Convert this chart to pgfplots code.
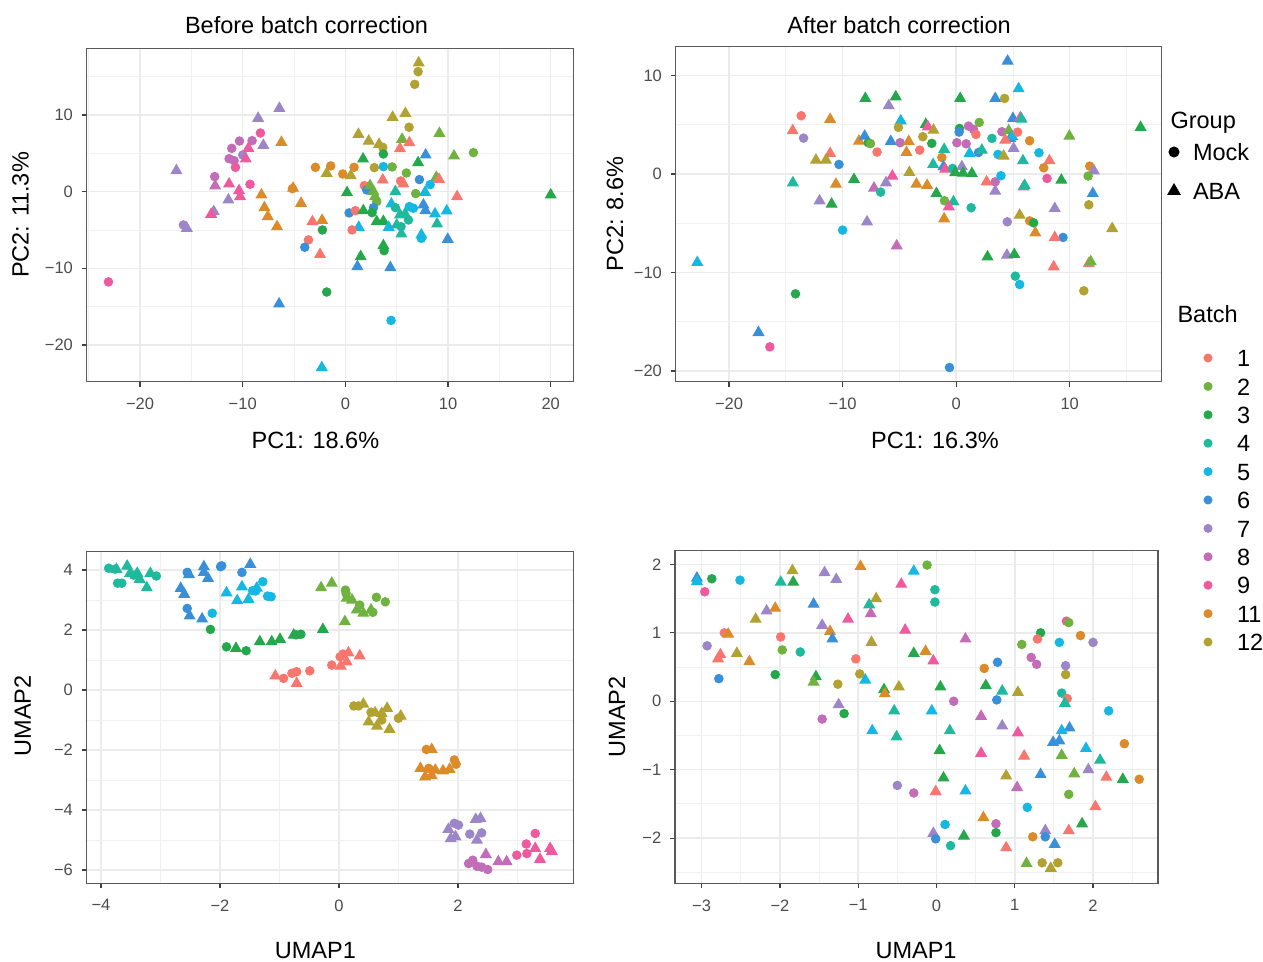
\documentclass[border=0pt]{standalone}
\usepackage{pgfplots}
\pgfplotsset{compat=1.18}
\usepackage{pgfplotstable}
\usepackage{fontspec}
\setmainfont{Liberation Sans}

\definecolor{b1}{HTML}{F8766D}
\definecolor{b2}{HTML}{6FB23F}
\definecolor{b3}{HTML}{25A84B}
\definecolor{b4}{HTML}{1FBA9E}
\definecolor{b5}{HTML}{15B8E2}
\definecolor{b6}{HTML}{3A90D8}
\definecolor{b7}{HTML}{9C86C8}
\definecolor{b8}{HTML}{C36CB7}
\definecolor{b9}{HTML}{EF5A9F}
\definecolor{b11}{HTML}{DC8B2A}
\definecolor{b12}{HTML}{B1A232}

\def\cs{1.7pt}
\def\ts{2.4pt}
\pgfplotsset{
  bclasses/.style={scatter/classes={
    c1={mark=*,mark size=\cs,draw=b1,fill=b1}, t1={mark=triangle*,mark size=\ts,draw=b1,fill=b1},
    c2={mark=*,mark size=\cs,draw=b2,fill=b2}, t2={mark=triangle*,mark size=\ts,draw=b2,fill=b2},
    c3={mark=*,mark size=\cs,draw=b3,fill=b3}, t3={mark=triangle*,mark size=\ts,draw=b3,fill=b3},
    c4={mark=*,mark size=\cs,draw=b4,fill=b4}, t4={mark=triangle*,mark size=\ts,draw=b4,fill=b4},
    c5={mark=*,mark size=\cs,draw=b5,fill=b5}, t5={mark=triangle*,mark size=\ts,draw=b5,fill=b5},
    c6={mark=*,mark size=\cs,draw=b6,fill=b6}, t6={mark=triangle*,mark size=\ts,draw=b6,fill=b6},
    c7={mark=*,mark size=\cs,draw=b7,fill=b7}, t7={mark=triangle*,mark size=\ts,draw=b7,fill=b7},
    c8={mark=*,mark size=\cs,draw=b8,fill=b8}, t8={mark=triangle*,mark size=\ts,draw=b8,fill=b8},
    c9={mark=*,mark size=\cs,draw=b9,fill=b9}, t9={mark=triangle*,mark size=\ts,draw=b9,fill=b9},
    c11={mark=*,mark size=\cs,draw=b11,fill=b11}, t11={mark=triangle*,mark size=\ts,draw=b11,fill=b11},
    c12={mark=*,mark size=\cs,draw=b12,fill=b12}, t12={mark=triangle*,mark size=\ts,draw=b12,fill=b12}
  }},
  panel/.style={
    scale only axis,
    tick pos=left,
    tick align=outside, major tick length=2pt, minor tick length=0pt,
    tick style={color=black!75, line width=0.5pt},
    grid=both,
    major grid style={color=black!8, line width=0.6pt},
    minor grid style={color=black!6, line width=0.35pt},
    axis line style={black!65, line width=0.6pt},
    ticklabel style={font=\fontsize{6.6}{7}\selectfont, text=black!70},
    xticklabel style={yshift=-1pt},
    label style={font=\fontsize{9.4}{11}\selectfont},
    /pgf/number format/assume math mode=true,
    xlabel style={anchor=center},
    ylabel style={anchor=center},
  },
  mleg/.style={
    hide axis, scale only axis, width=1pt, height=1pt,
    xmin=0, xmax=1, ymin=0, ymax=1, anchor=north west,
    legend cell align=left,
  }
}

\pgfplotstableread{
x y g
7.14 16.8 t12
7.08 15.65 c12
6.75 14.0 c12
-6.43 10.87 t7
-8.5 9.57 t7
4.6 9.7 t12
5.84 10.2 t12
6.2 8.4 c12
9.16 7.6 t2
-8.28 7.65 c9
-6.23 6.43 t11
1.27 7.48 t12
2.27 6.6 t12
3.28 6.17 t12
3.64 5.78 c12
5.52 6.83 t2
6.23 6.39 t1
5.32 5.61 t1
-7.99 6.04 t7
-10.32 6.6 c8
-9.09 6.65 c8
-11.07 5.65 c8
-11.33 4.3 c8
-12.73 1.96 c8
-10.0 4.78 c7
-9.45 5.65 t9
-9.71 4.26 t9
-10.84 4.04 c8
-10.71 3.17 c9
-16.46 2.74 t7
-12.69 0.74 t8
-11.33 1.0 t9
-9.29 0.96 c9
-10.36 0.13 t9
-10.26 -0.65 t9
-11.4 -1.09 t7
-12.82 -2.6 t7
-13.08 -2.96 t9
-15.78 -4.35 c7
-15.45 -4.78 t7
-23.08 -11.78 c9
-2.92 3.17 c11
-1.43 3.35 c11
0.84 3.17 c11
-0.26 2.3 c11
-1.82 2.39 t12
0.52 2.09 t12
-5.16 0.39 c11
-5.1 0.45 t11
-8.18 -0.43 t11
-7.89 -2.09 t11
-7.56 -3.26 t11
-6.66 -4.57 t11
-4.32 -1.52 t11
-2.27 -3.74 t11
-3.21 -3.91 t1
-2.24 -5.0 c3
-3.6 -6.3 c1
-3.96 -7.26 c6
-2.47 -8.2 t1
-1.82 -13.1 c3
-6.46 -14.65 t6
-2.3 -22.96 t5
4.45 -16.8 c5
20.0 -0.43 t3
12.47 5.09 c2
10.58 4.65 t2
7.82 4.78 t6
7.08 3.78 t3
1.72 4.26 t3
3.7 4.91 c3
2.82 3.13 c12
3.7 3.26 c5
4.55 3.22 c2
5.94 2.43 c2
8.86 1.87 t2
9.12 1.61 t1
10.88 -0.65 t1
7.21 1.57 c6
8.25 0.91 c5
3.64 1.52 t1
5.39 1.39 c1
5.65 1.0 t1
1.85 0.78 c1
2.08 0.22 c6
2.4 0.78 t2
2.73 0.0 t2
2.89 -0.65 t2
3.05 -1.3 c2
0.16 -0.13 t3
4.87 0.0 t4
6.85 -0.26 c2
7.76 -0.09 t5
2.73 -2.09 c6
4.48 -1.61 t5
4.87 -2.09 c4
6.23 -1.96 c5
6.62 -2.17 c5
7.6 -1.74 t6
7.79 -2.48 t6
8.73 -2.91 t5
9.87 -2.52 t5
0.36 -2.78 c6
0.97 -2.48 c1
1.75 -2.48 t3
2.6 -2.74 c3
5.32 -3.04 t4
5.81 -2.91 t4
6.14 -3.7 c4
3.05 -3.91 t3
3.7 -3.87 t3
5.0 -4.35 t4
5.42 -4.57 c4
1.3 -4.65 t5
4.22 -4.65 t5
0.65 -5.0 c1
5.45 -5.52 t4
7.4 -5.65 t5
7.4 -6.09 c5
8.93 -4.22 t4
9.97 -6.22 t6
3.7 -7.04 t3
3.77 -7.7 c3
1.49 -8.48 t3
1.17 -9.78 t6
4.38 -9.91 t6
}\dA

\pgfplotstableread{
x y g
4.53 11.49 t6
5.5 8.68 t5
-8.0 7.69 t3
-5.32 7.86 t3
0.35 7.69 t3
-5.94 6.95 t7
3.44 7.69 t6
4.26 7.69 c12
-13.65 5.93 c1
-11.1 5.56 t11
-4.88 5.42 t5
-2.68 5.05 t3
-2.5 4.81 t9
-5.09 4.75 c12
-2.0 4.47 t12
0.29 4.64 c3
0.26 4.27 c6
1.09 4.88 c8
2.03 5.25 c2
1.53 4.54 c8
1.74 4.03 c1
5.0 5.66 t6
5.65 5.73 t9
5.75 5.6 t4
-14.4 4.41 t1
-13.44 3.66 c7
-8.56 3.36 t11
-8.06 3.86 t6
-7.74 3.19 c3
-7.55 3.1 c2
-5.76 3.32 t6
-4.94 3.19 c8
-4.18 3.32 t11
-2.94 3.8 c12
-2.15 3.12 c3
-6.97 2.24 c1
-3.21 2.44 c1
-4.38 2.2 t11
-11.1 2.1 t1
-12.35 1.42 t12
-11.47 1.42 t12
-10.32 0.98 c6
-1.06 2.51 t4
-1.26 1.69 c11
-2.03 0.98 t4
-1.12 0.75 t6
-0.97 0.51 t9
-0.32 0.58 c4
0.06 3.19 c8
0.88 3.08 c8
0.5 0.75 t7
-0.09 0.14 t3
1.38 0.07 t3
0.6 0.1 t3
1.18 2.1 t5
1.97 2.2 c6
2.26 2.44 t4
3.15 3.63 c4
4.03 4.31 c8
4.62 4.41 t2
4.76 3.63 t6
4.95 3.8 t5
4.32 3.46 t1
5.41 4.27 c1
5.06 2.61 t7
3.68 2.0 c5
4.18 1.83 t12
5.88 1.36 t4
6.47 3.39 c11
7.29 2.17 c5
7.71 0.64 c11
8.21 1.36 t1
8.0 -0.44 c9
9.97 3.86 t2
9.26 -0.61 t3
16.24 4.75 t3
11.76 0.81 c11
12.12 0.34 t7
11.62 -0.2 c2
12.03 -1.97 t6
11.68 -3.12 c12
13.74 -5.53 t12
9.41 -6.44 c6
8.68 -6.44 t1
8.68 -3.49 t7
5.59 -4.17 t12
6.47 -4.75 c11
6.82 -4.95 c3
6.97 -5.97 t11
4.5 -4.85 c7
8.59 -9.42 t1
11.68 -9.08 t1
11.85 -8.9 t2
11.24 -11.86 c12
2.76 -8.41 t3
4.47 -8.24 t7
5.12 -8.17 t3
5.21 -10.37 c4
5.59 -11.22 c5
2.68 -0.78 t1
3.44 -0.78 c8
3.44 -1.73 t7
3.94 -0.17 c5
5.94 -1.29 t9
6.03 -1.15 t4
-4.12 0.17 t12
-3.5 -1.02 t11
-2.56 -1.15 t11
-1.74 -1.97 t3
-1.03 -2.71 c2
-0.24 -2.81 t4
-0.65 -3.32 t9
-1.06 -4.54 t11
1.32 -3.42 c4
-5.62 -0.2 t9
-6.18 -0.88 t7
-7.24 -1.42 t8
-6.65 -1.83 c4
-9.0 -0.54 t3
-10.59 -1.02 t11
-14.38 -0.88 t4
-12.03 -2.71 t7
-10.97 -3.05 t3
-10.0 -5.69 c5
-7.85 -4.85 t7
-5.24 -7.29 t8
-22.8 -8.98 t5
-14.15 -12.17 c3
-17.41 -16.1 t6
-16.41 -17.56 c9
-0.59 -19.66 c6
}\dB

\pgfplotstableread{
x y g
-3.87 4.06 c4
-3.76 4.03 c4
-3.74 4.02 t4
-3.56 4.13 t4
-3.51 3.89 t4
-3.45 3.83 c4
-3.39 3.89 t4
-3.35 3.69 t4
-3.23 3.41 t4
-3.17 3.89 t4
-3.07 3.8 c4
-3.72 3.56 c4
-3.65 3.56 c4
-2.55 3.92 c6
-2.52 3.85 t6
-2.27 4.11 t6
-2.27 3.92 t6
-2.2 3.72 t6
-2.66 3.39 t6
-2.6 3.19 t6
-2.55 2.72 c6
-2.51 2.47 t6
-2.3 2.37 t6
-1.99 4.11 c6
-1.97 4.14 c6
-1.63 3.92 c6
-1.49 4.19 t6
-2.13 2.56 c5
-1.89 3.24 t5
-1.71 2.98 t5
-1.63 3.44 t5
-1.52 3.02 t5
-1.45 3.31 c5
-1.4 3.3 c5
-1.38 3.4 t5
-1.28 3.61 c5
-1.2 3.13 c5
-1.14 3.11 c5
-2.16 2.02 c3
-1.89 1.44 c3
-1.73 1.39 t3
-1.56 1.31 c3
-1.33 1.61 t3
-1.13 1.61 t3
-0.99 1.69 t3
-0.76 1.83 t3
-0.72 1.84 c3
-0.64 1.86 c3
-0.27 2.02 t3
-0.3 3.41 t2
-0.12 3.56 t2
0.11 3.33 c2
0.12 3.22 c2
0.13 3.06 t2
0.22 3.0 t2
0.35 2.83 c2
0.3 2.67 t2
0.41 2.56 t2
0.54 2.67 t2
0.57 2.59 c2
0.63 3.09 c2
0.78 2.94 c2
0.1 2.28 t2
-1.07 0.47 t1
-0.93 0.39 c1
-0.79 0.56 c1
-0.71 0.61 c1
-0.71 0.22 t1
-0.49 0.64 c1
-0.12 0.83 c1
0.02 1.11 c1
0.03 0.8 t1
0.13 0.94 t1
0.16 1.24 t1
0.35 1.14 t1
0.07 1.2 c1
0.25 -0.53 c12
0.33 -0.53 c12
0.41 -0.47 t12
0.54 -0.74 c12
0.61 -0.76 t12
0.5 -1.06 t12
0.64 -1.2 t12
0.72 -1.0 c12
0.72 -0.78 t12
0.81 -0.61 t12
0.85 -1.31 t12
1.0 -0.94 c12
1.04 -0.87 t12
1.47 -1.98 c11
1.56 -1.98 t11
1.37 -2.61 t11
1.51 -2.61 c11
1.45 -2.89 t11
1.56 -2.85 t11
1.62 -2.67 t11
1.75 -2.69 t11
1.86 -2.64 t11
1.94 -2.33 c11
1.97 -2.47 c11
1.84 -4.64 t7
1.94 -4.44 c7
2.01 -4.5 c7
1.96 -4.89 t7
1.88 -4.95 t7
2.2 -4.8 c7
2.3 -4.31 t7
2.38 -4.28 t7
2.4 -4.76 c7
2.32 -5.0 t7
2.18 -5.78 c8
2.25 -5.67 c8
2.32 -5.87 c8
2.4 -5.9 c8
2.5 -5.98 c8
2.47 -5.48 t8
2.68 -5.72 t8
2.82 -5.72 t8
2.99 -5.5 c9
3.15 -5.13 c9
3.16 -5.45 c9
3.3 -4.78 c9
3.3 -5.28 t9
3.38 -5.64 t9
3.55 -5.28 t9
3.58 -5.38 t9
}\dC

\pgfplotstableread{
x y g
-3.06 1.8 t6
-3.06 1.75 t5
-2.87 1.79 c3
-2.96 1.6 c9
-2.51 1.77 c5
-2.93 0.81 c7
-2.71 1.0 c1
-2.66 0.98 t11
-2.79 0.62 t1
-2.76 0.68 t1
-2.55 0.7 t12
-2.39 0.58 t11
-2.78 0.33 c6
-2.31 1.2 t12
-2.17 1.32 t7
-2.06 1.36 t11
-1.99 1.74 t4
-1.83 1.74 t3
-1.84 1.91 t12
-1.99 0.94 c1
-1.97 0.75 c2
-1.74 0.72 c4
-2.06 0.39 c3
-1.43 1.88 t7
-1.28 1.78 t7
-1.57 1.42 t6
-1.46 1.11 t7
-1.36 1.02 t11
-1.33 0.91 t6
-1.13 1.2 t9
-1.54 0.36 t3
-1.57 0.28 t2
-1.26 0.25 c12
-1.25 -0.05 t7
-1.18 -0.18 c3
-1.46 -0.26 c8
-0.97 1.97 t11
-0.86 1.41 t4
-0.77 1.5 t12
-0.84 1.28 t8
-0.83 0.86 t12
-1.03 0.62 c1
-0.98 0.4 c12
-0.91 0.31 t5
-0.67 0.17 t3
-0.66 0.11 t11
-0.48 0.21 t12
-0.54 -0.14 t4
-0.82 -0.43 t5
-0.51 -0.52 t4
-0.29 1.9 t5
-0.45 1.71 t9
-0.12 1.99 c2
-0.02 1.63 c4
-0.02 1.45 c4
-0.4 1.04 t9
-0.29 0.7 t3
-0.14 0.73 t11
-0.04 0.59 t9
0.22 0.0 c8
0.05 0.21 t3
-0.06 -0.14 t5
0.17 -0.43 t4
0.04 -0.72 t3
0.09 -1.12 t3
-0.5 -1.23 c7
-0.29 -1.34 c8
-0.01 -1.32 t1
0.37 -1.31 t5
0.37 0.91 t8
0.61 0.48 c11
0.78 0.57 c6
0.63 0.23 t3
0.84 0.15 t4
0.77 0.02 c6
1.04 0.13 t12
0.57 -0.22 t8
0.84 -0.36 t7
0.57 -0.76 t9
1.04 -0.46 t9
1.12 -0.8 t1
0.89 -1.09 t12
1.03 -1.26 t8
1.33 -1.07 t6
1.16 -1.55 c5
1.09 0.83 c2
1.33 1.0 c3
1.29 0.91 c1
1.21 0.64 c8
1.28 0.54 c8
1.57 0.86 c5
1.66 1.17 c9
1.69 1.15 c2
1.84 0.96 c11
2.0 0.86 c7
1.65 0.52 c7
1.65 0.39 c12
1.6 0.12 c4
1.67 0.04 c1
1.64 -0.03 t4
1.7 -0.39 t6
1.6 -0.43 t5
1.57 -0.58 t6
1.49 -0.6 t6
1.6 -0.79 t2
2.2 -0.14 c5
2.4 -0.62 c11
1.91 -0.69 t5
2.09 -0.86 t4
1.94 -1.0 t7
1.76 -1.06 t2
2.17 -1.11 t1
2.38 -1.14 t3
2.59 -1.14 c11
1.69 -1.36 c2
2.03 -1.54 t1
1.86 -1.79 t3
1.69 -1.89 t1
1.39 -1.89 t7
1.39 -1.98 c6
1.51 -2.09 t6
1.23 -1.98 c11
0.89 -2.14 t1
0.76 -1.79 c8
0.76 -1.92 c3
0.6 -1.7 t11
0.11 -1.8 c5
-0.04 -1.93 t7
-0.01 -2.01 c6
0.18 -2.11 c4
0.35 -1.97 t3
1.15 -2.37 t2
1.35 -2.36 c12
1.55 -2.36 c12
1.46 -2.44 t12
}\dD

\begin{document}
\begin{tikzpicture}
\useasboundingbox (0pt,0pt) rectangle (505.2pt,-384.8pt);

% Panel 1
\begin{axis}[panel, at={(34.68pt,-152.68pt)}, anchor=south west,
  width=194.64pt, height=133.36pt,
  xmin=-25.2, xmax=22.2, ymin=-24.8, ymax=18.7,
  xtick={-20,-10,0,10,20}, xticklabels={−20,−10,0,10,20},
  ytick={-20,-10,0,10}, yticklabels={−20,−10,0,10},
  minor xtick={-25,-15,-5,5,15}, minor ytick={-15,-5,5,15},
  xlabel={PC1: 18.6\%}, ylabel={PC2: 11.3\%},
  xlabel style={at={(axis description cs:0.470,-0.1747)}},
  ylabel style={at={(axis description cs:-0.1361,0.5)}}]
\addplot[scatter, only marks, scatter src=explicit symbolic, bclasses] table[x=x, y=y, meta=g] {\dA};
\end{axis}

% Panel 2
\begin{axis}[panel, at={(270.28pt,-152.68pt)}, anchor=south west,
  width=194.4pt, height=134pt,
  xmin=-24.7, xmax=18.1, ymin=-21.1, ymax=12.95,
  xtick={-20,-10,0,10}, xticklabels={−20,−10,0,10},
  ytick={-20,-10,0,10}, yticklabels={−20,−10,0,10},
  minor xtick={-15,-5,5,15}, minor ytick={-15,-5,5},
  xlabel={PC1: 16.3\%}, ylabel={PC2: 8.6\%},
  xlabel style={at={(axis description cs:0.5335,-0.1739)}},
  ylabel style={at={(axis description cs:-0.125,0.5)}}]
\addplot[scatter, only marks, scatter src=explicit symbolic, bclasses] table[x=x, y=y, meta=g] {\dB};
\end{axis}

% Panel 3
\begin{axis}[panel, at={(34.68pt,-353.32pt)}, anchor=south west,
  width=194.64pt, height=132.64pt,
  xmin=-4.24, xmax=3.94, ymin=-6.44, ymax=4.61,
  xtick={-4,-2,0,2}, xticklabels={−4,−2,0,2},
  ytick={-6,-4,-2,0,2,4}, yticklabels={−6,−4,−2,0,2,4},
  minor xtick={-3,-1,1,3}, minor ytick={-5,-3,-1,1,3},
  xlabel={UMAP1}, ylabel={UMAP2},
  xlabel style={at={(axis description cs:0.470,-0.2013)}},
  ylabel style={at={(axis description cs:-0.1315,0.505)}}]
\addplot[scatter, only marks, scatter src=explicit symbolic, bclasses] table[x=x, y=y, meta=g] {\dC};
\end{axis}

% Panel 4
\begin{axis}[panel, at={(270pt,-353.32pt)}, anchor=south west,
  width=193.2pt, height=133.04pt,
  xmin=-3.34, xmax=2.83, ymin=-2.66, ymax=2.2,
  xtick={-3,-2,-1,0,1,2}, xticklabels={−3,−2,−1,0,1,2},
  ytick={-2,-1,0,1,2}, yticklabels={−2,−1,0,1,2},
  minor xtick={-2.5,-1.5,-0.5,0.5,1.5,2.5}, minor ytick={-2.5,-1.5,-0.5,0.5,1.5},
  xlabel={UMAP1}, ylabel={UMAP2},
  xlabel style={at={(axis description cs:0.499,-0.2007)}},
  ylabel style={at={(axis description cs:-0.1201,0.5)}}]
\addplot[scatter, only marks, scatter src=explicit symbolic, bclasses] table[x=x, y=y, meta=g] {\dD};
\end{axis}

% Titles
\node[anchor=base, font=\fontsize{9.4}{11}\selectfont] at (122.6pt,-13.4pt) {Before batch correction};
\node[anchor=base, font=\fontsize{9.4}{11}\selectfont] at (359.6pt,-13.4pt) {After batch correction};

% Legend titles
\node[anchor=base west, inner sep=0pt, font=\fontsize{9.4}{11}\selectfont] at (468pt,-51.4pt) {Group};
\node[anchor=base west, inner sep=0pt, font=\fontsize{9.4}{11}\selectfont] at (470.8pt,-129pt) {Batch};

% Group legend
\begin{axis}[mleg, at={(466.6pt,-57.3pt)},
  legend image code/.code={\path[draw=none] (-3pt,0pt) -- (7.6pt,0pt); \draw[#1, only marks] plot coordinates {(0pt,0pt)};},
  legend style={at={(0,1)}, anchor=north west, draw=none, fill=none, inner sep=0pt, outer sep=0pt,
    row sep=8.6pt, font=\fontsize{9.4}{11}\selectfont,
    nodes={inner sep=0pt, text height=7pt, text depth=0pt}}]
\addlegendimage{mark=*, black, mark size=2pt}
\addlegendentry{Mock}
\addlegendimage{mark=triangle*, black, mark size=2.8pt}
\addlegendentry{ABA}
\end{axis}

% Batch legend
\begin{axis}[mleg, at={(480.7pt,-139.7pt)},
  legend image code/.code={\path[draw=none] (-2.5pt,0pt) -- (11.6pt,0pt); \draw[#1, only marks] plot coordinates {(0pt,0pt)};},
  legend style={at={(0,1)}, anchor=north west, draw=none, fill=none, inner sep=0pt, outer sep=0pt,
    row sep=4.36pt, font=\fontsize{9.4}{11}\selectfont,
    nodes={inner sep=0pt, text height=7pt, text depth=0pt}}]
\addlegendimage{mark=*, b1, mark size=1.6pt}\addlegendentry{1}
\addlegendimage{mark=*, b2, mark size=1.6pt}\addlegendentry{2}
\addlegendimage{mark=*, b3, mark size=1.6pt}\addlegendentry{3}
\addlegendimage{mark=*, b4, mark size=1.6pt}\addlegendentry{4}
\addlegendimage{mark=*, b5, mark size=1.6pt}\addlegendentry{5}
\addlegendimage{mark=*, b6, mark size=1.6pt}\addlegendentry{6}
\addlegendimage{mark=*, b7, mark size=1.6pt}\addlegendentry{7}
\addlegendimage{mark=*, b8, mark size=1.6pt}\addlegendentry{8}
\addlegendimage{mark=*, b9, mark size=1.6pt}\addlegendentry{9}
\addlegendimage{mark=*, b11, mark size=1.6pt}\addlegendentry{11}
\addlegendimage{mark=*, b12, mark size=1.6pt}\addlegendentry{12}
\end{axis}
\end{tikzpicture}
\end{document}
